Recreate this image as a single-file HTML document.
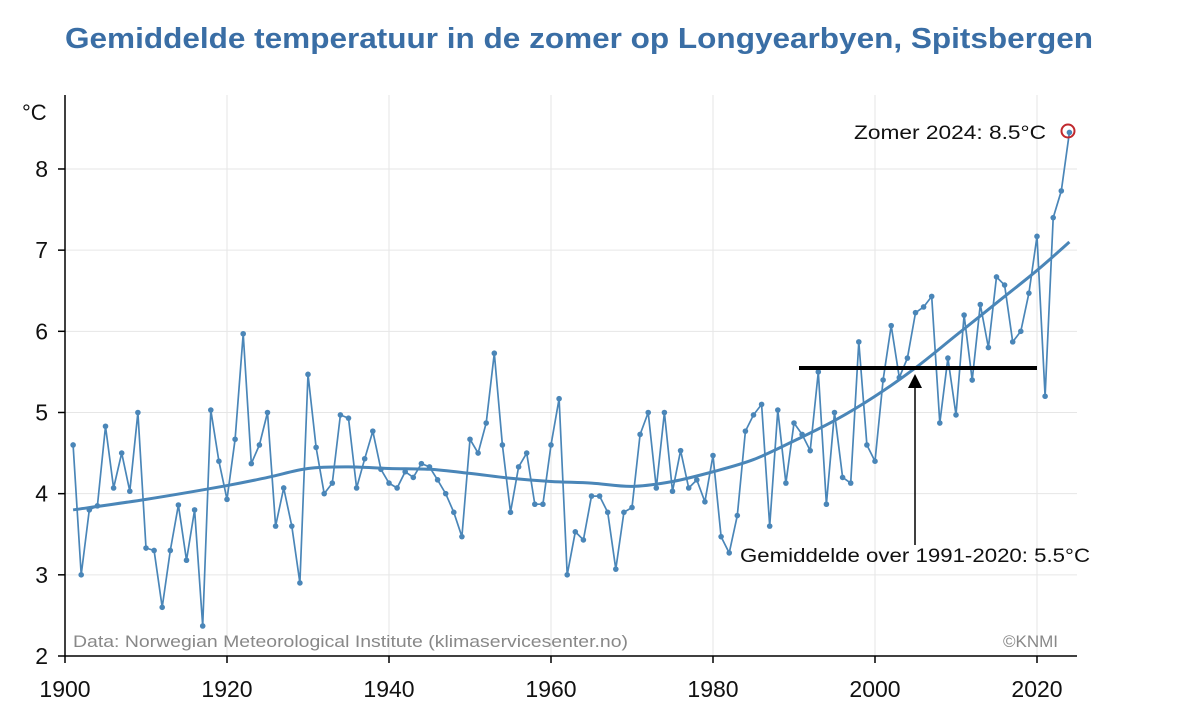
<!DOCTYPE html>
<html><head><meta charset="utf-8"><style>
html,body{margin:0;padding:0;background:#fff;}
svg{display:block;font-family:"Liberation Sans",sans-serif;}
</style></head><body>
<svg id="s" width="1200" height="720" xmlns="http://www.w3.org/2000/svg">
<text x="65" y="48" font-size="29" font-weight="bold" fill="#3a6ea5" textLength="1028" lengthAdjust="spacingAndGlyphs">Gemiddelde temperatuur in de zomer op Longyearbyen, Spitsbergen</text>
<g id="grid" stroke="#e6e6e6" stroke-width="1"></g>
<g id="axes" stroke="#000" stroke-width="1.5"></g>
<g id="lab" font-size="23" fill="#111"></g>
<text x="22" y="120" font-size="22" fill="#111">°C</text>
<text x="73" y="647" font-size="17" fill="#888" textLength="555" lengthAdjust="spacingAndGlyphs">Data: Norwegian Meteorological Institute (klimaservicesenter.no)</text>
<text x="1058" y="647" font-size="17" fill="#888" text-anchor="end">©KNMI</text>
<path id="trend" fill="none" stroke="#4a86b8" stroke-width="3"/>
<polyline id="data" fill="none" stroke="#4a86b8" stroke-width="1.7"/>
<g id="dots" fill="#4a86b8"></g>
<line x1="799" y1="368" x2="1037" y2="368" stroke="#000" stroke-width="4"/>
<line x1="915" y1="545" x2="915" y2="386" stroke="#000" stroke-width="1.5"/>
<polygon points="915,374 908,388 922,388" fill="#000"/>
<text x="740" y="562" font-size="19" fill="#111" textLength="350" lengthAdjust="spacingAndGlyphs">Gemiddelde over 1991-2020: 5.5°C</text>
<text x="1046" y="139" font-size="19" fill="#111" text-anchor="end" textLength="192" lengthAdjust="spacingAndGlyphs">Zomer 2024: 8.5°C</text>
<circle cx="1068" cy="131" r="6.5" fill="none" stroke="#c0282d" stroke-width="2"/>
</svg>
<script>
var X=function(y){return 65+8.1*(y-1900)},Y=function(v){return 656-(v-2)*81.17};
var d=[4.6,3.0,3.8,3.85,4.83,4.07,4.5,4.03,5.0,3.33,3.3,2.6,3.3,3.86,3.18,3.8,2.37,5.03,4.4,3.93,4.67,5.97,4.37,4.6,5.0,3.6,4.07,3.6,2.9,5.47,4.57,4.0,4.13,4.97,4.93,4.07,4.43,4.77,4.3,4.13,4.07,4.27,4.2,4.37,4.33,4.17,4.0,3.77,3.47,4.67,4.5,4.87,5.73,4.6,3.77,4.33,4.5,3.87,3.87,4.6,5.17,3.0,3.53,3.43,3.97,3.97,3.77,3.07,3.77,3.83,4.73,5.0,4.07,5.0,4.03,4.53,4.07,4.17,3.9,4.47,3.47,3.27,3.73,4.77,4.97,5.1,3.6,5.03,4.13,4.87,4.73,4.53,5.5,3.87,5.0,4.2,4.13,5.87,4.6,4.4,5.4,6.07,5.43,5.67,6.23,6.3,6.43,4.87,5.67,4.97,6.2,5.4,6.33,5.8,6.67,6.57,5.87,6.0,6.47,7.17,5.2,7.4,7.73,8.45];
var ns="http://www.w3.org/2000/svg",p=[],dots=document.getElementById('dots');
d.forEach(function(v,i){var x=X(1901+i),y=Y(v);p.push(x.toFixed(1)+','+y.toFixed(1));var c=document.createElementNS(ns,'circle');c.setAttribute('cx',x);c.setAttribute('cy',y);c.setAttribute('r',2.8);dots.appendChild(c);});
document.getElementById('data').setAttribute('points',p.join(' '));
var t=[[1901,3.8],[1910,3.93],[1920,4.1],[1925,4.2],[1930,4.31],[1935,4.33],[1940,4.31],[1945,4.3],[1950,4.25],[1955,4.19],[1960,4.15],[1965,4.13],[1970,4.09],[1975,4.15],[1980,4.27],[1985,4.42],[1990,4.65],[1995,4.9],[2000,5.2],[2005,5.55],[2010,5.95],[2015,6.35],[2020,6.75],[2024,7.1]].map(function(a){return [X(a[0]),Y(a[1])]});
var s='M'+t[0][0]+','+t[0][1];
for(var i=0;i<t.length-1;i++){var p0=t[Math.max(0,i-1)],p1=t[i],p2=t[i+1],p3=t[Math.min(t.length-1,i+2)];
s+=' C'+(p1[0]+(p2[0]-p0[0])/6)+','+(p1[1]+(p2[1]-p0[1])/6)+' '+(p2[0]-(p3[0]-p1[0])/6)+','+(p2[1]-(p3[1]-p1[1])/6)+' '+p2[0]+','+p2[1];}
document.getElementById('trend').setAttribute('d',s);
var g=document.getElementById('grid'),ax=document.getElementById('axes'),lb=document.getElementById('lab');
function L(par,x1,y1,x2,y2){var l=document.createElementNS(ns,'line');l.setAttribute('x1',x1);l.setAttribute('y1',y1);l.setAttribute('x2',x2);l.setAttribute('y2',y2);par.appendChild(l);}
function T(x,y,s,a){var e=document.createElementNS(ns,'text');e.setAttribute('x',x);e.setAttribute('y',y);e.setAttribute('text-anchor',a);e.textContent=s;lb.appendChild(e);}
for(var v=2;v<=8;v++){var y=Y(v);if(v>2)L(g,65,y,1077,y);L(ax,58,y,65,y);T(48,y+8,v,'end');}
for(var yr=1900;yr<=2020;yr+=20){var x=X(yr);if(yr>1900)L(g,x,95,x,656);L(ax,x,656,x,663);T(x,697,yr,'middle');}
L(ax,65,95,65,656);L(ax,65,656,1077,656);
</script>
</body></html>
